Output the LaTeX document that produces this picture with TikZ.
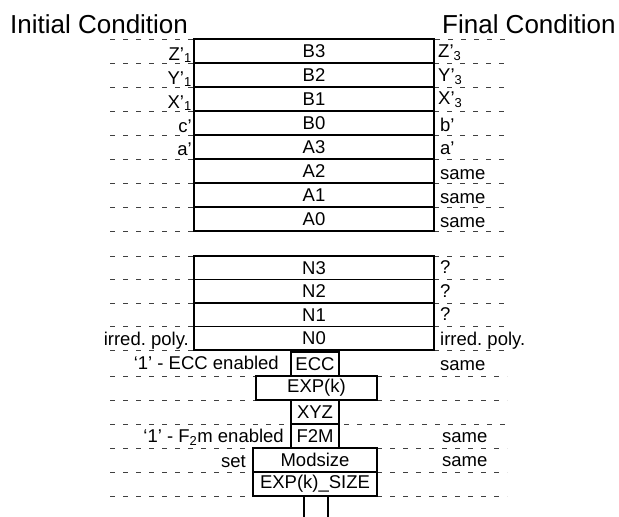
\documentclass[tikz,border=0pt]{standalone}
\usepackage{fontspec}
\setmainfont{Liberation Sans}
\usepackage{tikz}
\usepackage{xcolor}
\frenchspacing

\newcommand{\regfont}{\fontsize{18.5}{20}\selectfont}
\newcommand{\headfont}{\fontsize{26}{28}\selectfont}

\begin{document}
\begin{tikzpicture}[x=1pt,y=1pt,
  reg/.style={draw,line width=1.2pt,minimum width=240pt,minimum height=24pt,inner sep=0pt,font=\regfont},
  nreg/.style={reg,minimum height=23.5pt},
  smallreg/.style={reg,minimum width=48pt},
  widereg/.style={reg,minimum width=124pt},
  lbl/.style={inner sep=0pt,font=\regfont},
  guide/.style={black!75,line width=0.8pt,dash pattern=on 5pt off 8pt}]
\useasboundingbox (0,0) rectangle (619,-517);
% headings
\node[lbl,font=\headfont,anchor=base west] (initial) at (10,-33) {Initial Condition};
\node[lbl,font=\headfont,anchor=base west] (final) at (442,-33) {Final Condition};
% guide lines, upper register
\draw[guide] (110,-39) -- (507,-39);
\draw[guide] (110,-63) -- (194,-63);   \draw[guide] (434,-63) -- (507,-63);
\draw[guide] (110,-87) -- (194,-87);   \draw[guide] (434,-87) -- (507,-87);
\draw[guide] (110,-111) -- (194,-111); \draw[guide] (434,-111) -- (507,-111);
\draw[guide] (110,-135) -- (194,-135); \draw[guide] (434,-135) -- (507,-135);
\draw[guide] (110,-159) -- (194,-159); \draw[guide] (434,-159) -- (507,-159);
\draw[guide] (110,-183) -- (194,-183); \draw[guide] (434,-183) -- (507,-183);
\draw[guide] (110,-207) -- (194,-207); \draw[guide] (434,-207) -- (507,-207);
\draw[guide] (110,-231) -- (194,-231); \draw[guide] (434,-231) -- (507,-231);
% guide lines, modulus register
\draw[guide] (110,-256) -- (194,-256);     \draw[guide] (434,-256) -- (507,-256);
\draw[guide] (110,-279.5) -- (194,-279.5); \draw[guide] (434,-279.5) -- (507,-279.5);
\draw[guide] (110,-303) -- (194,-303);     \draw[guide] (434,-303) -- (507,-303);
\draw[guide] (110,-326.5) -- (194,-326.5); \draw[guide] (434,-326.5) -- (507,-326.5);
\draw[guide] (110,-350) -- (194,-350);     \draw[guide] (434,-350) -- (507,-350);
% guide lines, control words
\draw[guide] (110,-376) -- (256,-376); \draw[guide] (377,-376) -- (507,-376);
\draw[guide] (110,-400) -- (256,-400); \draw[guide] (377,-400) -- (507,-400);
\draw[guide] (110,-424) -- (507,-424);
\draw[guide] (110,-448) -- (253,-448); \draw[guide] (377,-448) -- (507,-448);
\draw[guide] (110,-472) -- (253,-472); \draw[guide] (377,-472) -- (507,-472);
\draw[guide] (110,-496) -- (253,-496); \draw[guide] (377,-496) -- (507,-496);
% upper register
\node[reg] (B3) at (314,-51) {B3};
\node[reg] (B2) at (314,-75) {B2};
\node[reg] (B1) at (314,-99) {B1};
\node[reg] (B0) at (314,-123) {B0};
\node[reg] (A3) at (314,-147) {A3};
\node[reg] (A2) at (314,-171) {A2};
\node[reg] (A1) at (314,-195) {A1};
\node[reg] (A0) at (314,-219) {A0};
% modulus register
\node[nreg] (N3) at (314,-267.75) {N3};
\node[nreg] (N2) at (314,-291.25) {N2};
\node[nreg] (N1) at (314,-314.75) {N1};
\node[nreg] (N0) at (314,-338.25) {N0};
% control words
\node[smallreg] (ECC) at (315,-364) {ECC};
\node[reg,minimum width=121pt] (EXPk) at (316.5,-388) {EXP(k)};
\node[smallreg] (XYZ) at (315,-412) {XYZ};
\node[smallreg] (F2M) at (315,-436) {F2M};
\node[widereg] (Modsize) at (315,-460) {Modsize};
\node[widereg] (EXPkSIZE) at (315,-484) {EXP(k)\_SIZE};
% initial condition labels
\node[lbl,anchor=base east] (initZ) at (192,-60) {Z’\textsubscript{1}};
\node[lbl,anchor=base east] (initY) at (192,-84) {Y’\textsubscript{1}};
\node[lbl,anchor=base east] (initX) at (192,-108) {X’\textsubscript{1}};
\node[lbl,anchor=base east] (initc) at (192,-132) {c’};
\node[lbl,anchor=base east] (inita) at (192,-155) {a’};
\node[lbl,anchor=base east] (initN) at (189,-345) {irred. poly.};
\node[lbl,anchor=base east] (initECC) at (279,-369) {‘1’ - ECC enabled};
\node[lbl,anchor=base east] (initF2M) at (284,-442) {‘1’ - F\textsubscript{2}m enabled};
\node[lbl,anchor=base east] (initMod) at (246,-467) {set};
% final condition labels
\node[lbl,anchor=base west] (finZ) at (438,-57) {Z’\textsubscript{3}};
\node[lbl,anchor=base west] (finY) at (438,-81) {Y’\textsubscript{3}};
\node[lbl,anchor=base west] (finX) at (438,-104) {X’\textsubscript{3}};
\node[lbl,anchor=base west] (finb) at (440,-131) {b’};
\node[lbl,anchor=base west] (fina) at (440,-154) {a’};
\node[lbl,anchor=base west] (finA2) at (440,-179) {same};
\node[lbl,anchor=base west] (finA1) at (440,-203) {same};
\node[lbl,anchor=base west] (finA0) at (440,-227) {same};
\node[lbl,anchor=base west] (finN3) at (440,-273) {?};
\node[lbl,anchor=base west] (finN2) at (440,-297) {?};
\node[lbl,anchor=base west] (finN1) at (440,-320) {?};
\node[lbl,anchor=base west] (finN0) at (440,-345) {irred. poly.};
\node[lbl,anchor=base west] (finECC) at (440,-370) {same};
\node[lbl,anchor=base west] (finF2M) at (442,-442) {same};
\node[lbl,anchor=base west] (finMod) at (442,-466) {same};
% bus leaving the last word
\coordinate (busL) at (304,-517);
\coordinate (busR) at (328,-517);
\draw[line width=1.2pt] (EXPkSIZE.south -| busL) -- (busL);
\draw[line width=1.2pt] (EXPkSIZE.south -| busR) -- (busR);
\end{tikzpicture}
\end{document}
